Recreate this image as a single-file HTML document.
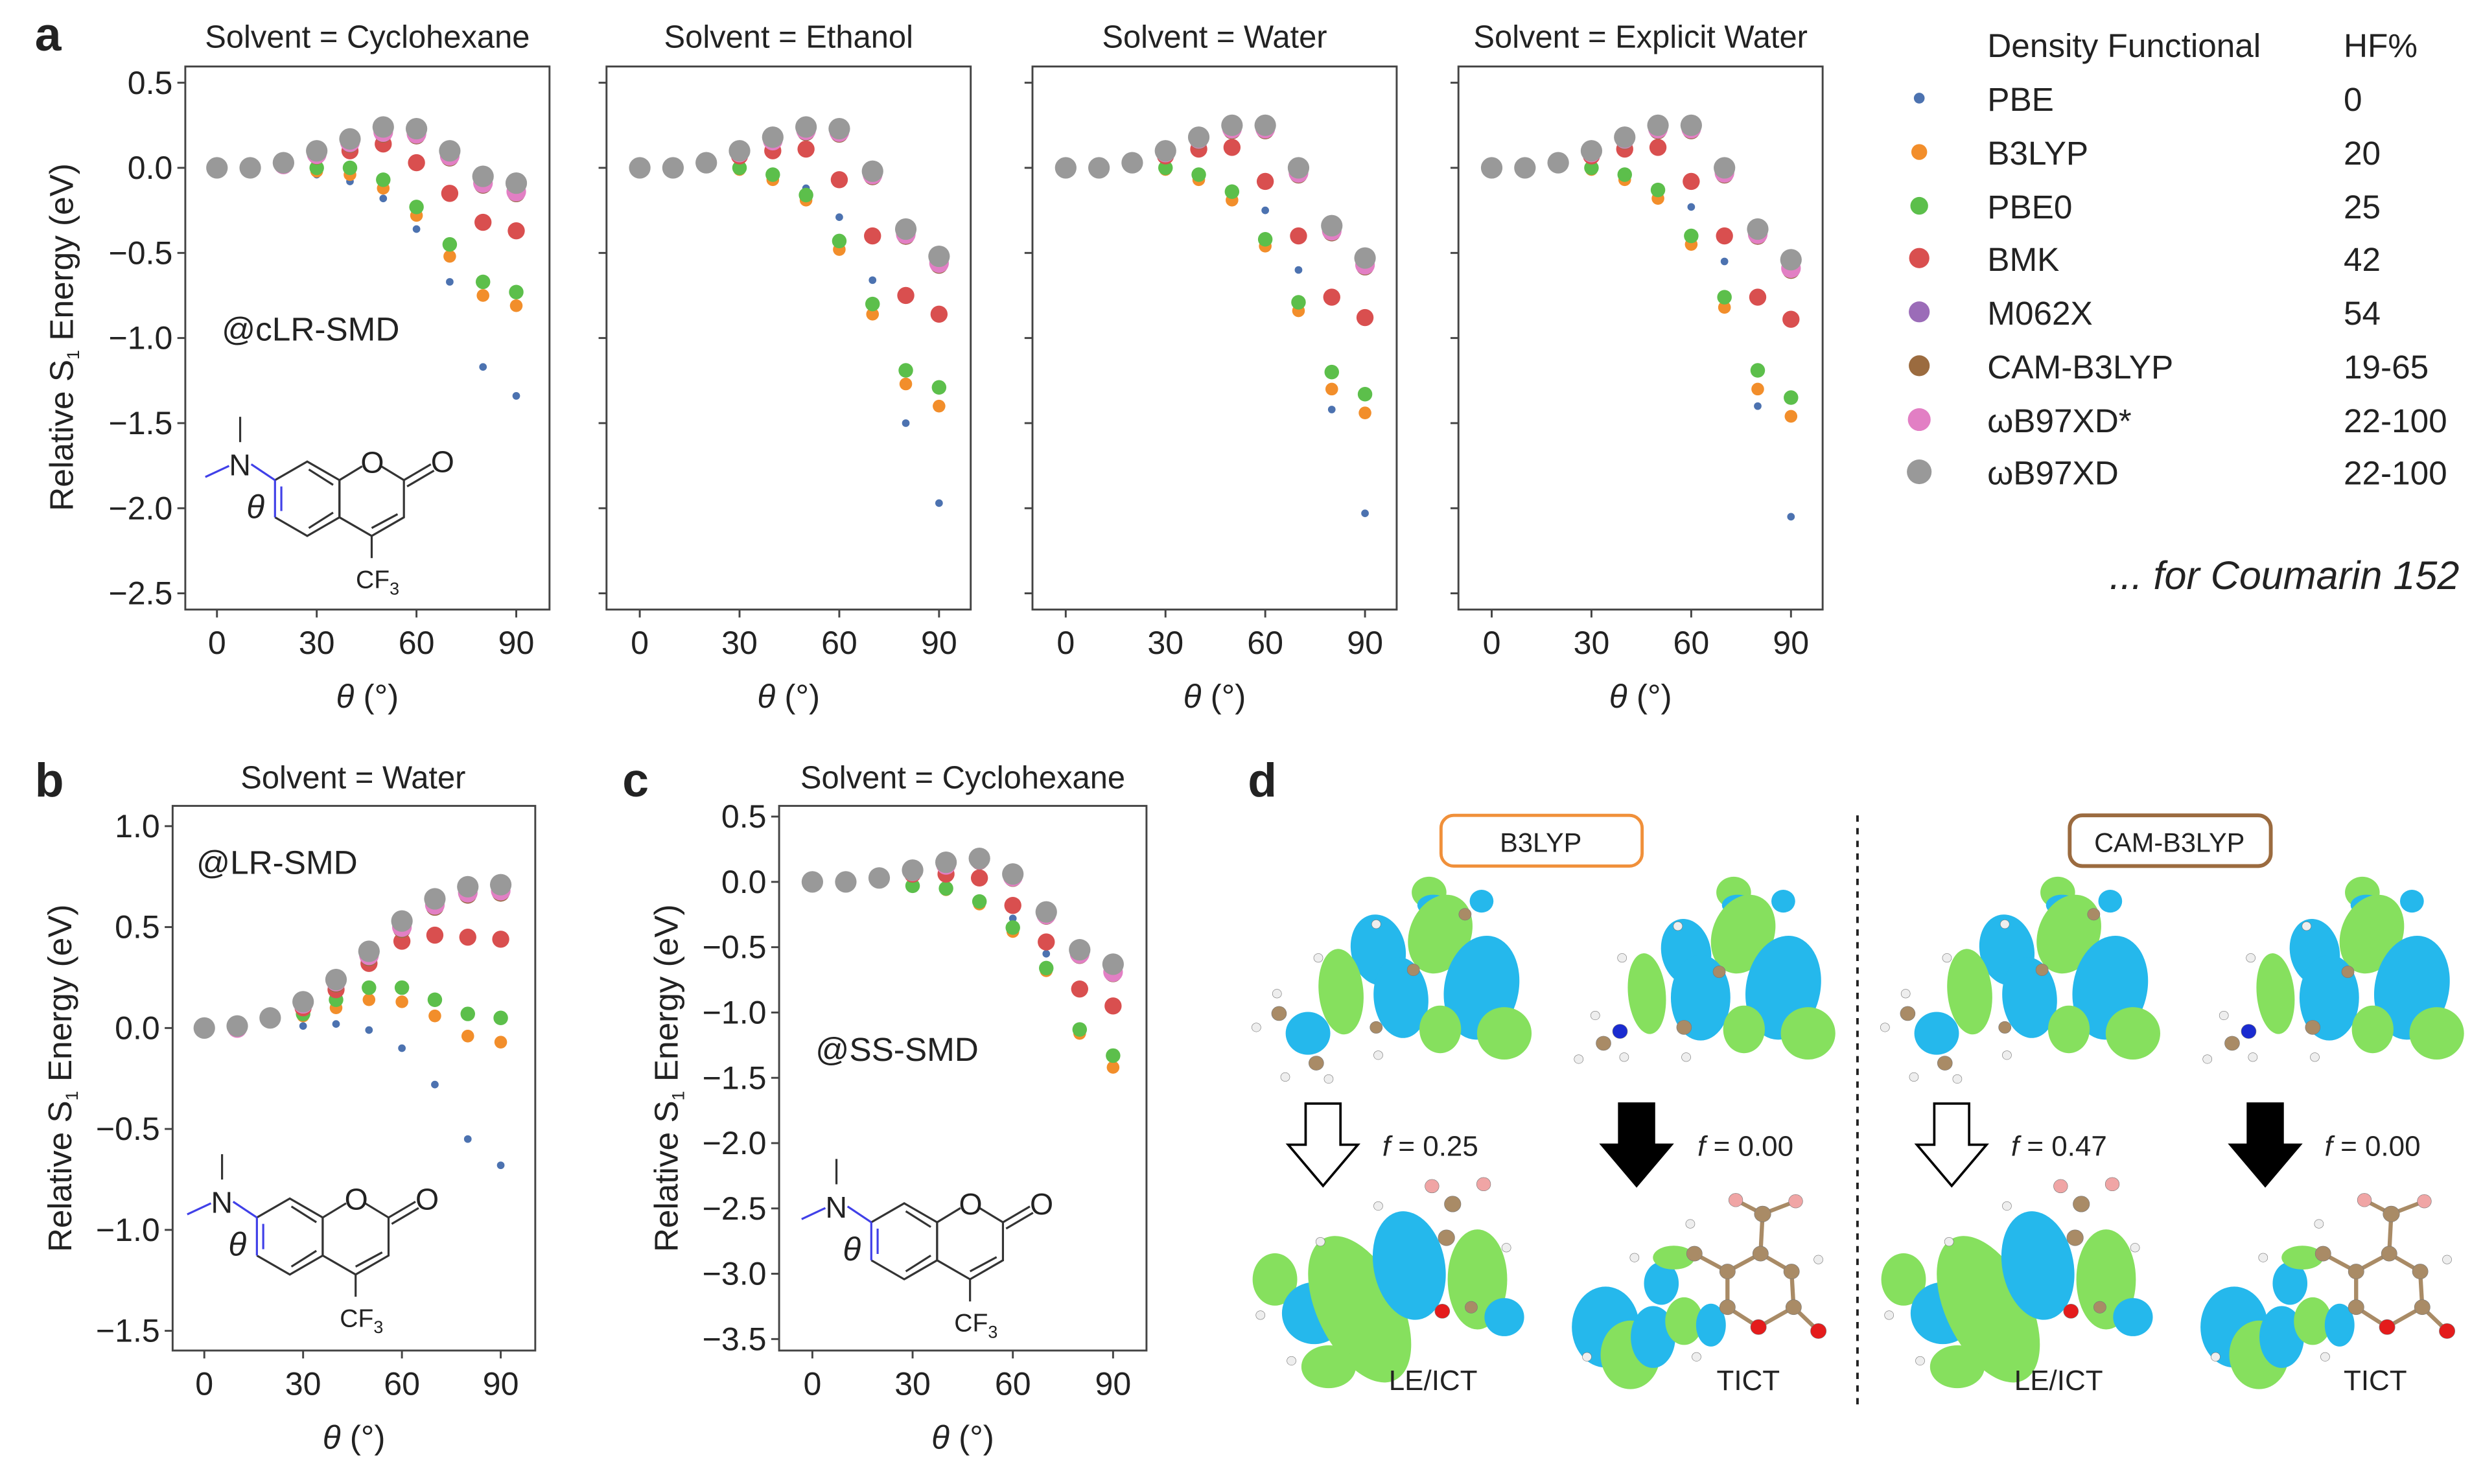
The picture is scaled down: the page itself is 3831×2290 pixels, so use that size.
<!DOCTYPE html>
<html><head><meta charset="utf-8"><style>
html,body{margin:0;padding:0;background:#fff}
svg{display:block}
text{font-family:"Liberation Sans",Arial,sans-serif;fill:#222}
</style></head><body>
<svg id="fig" width="3831" height="2290" viewBox="0 0 1568 937.3" xmlns="http://www.w3.org/2000/svg">
<rect width="1568" height="937.3" fill="#fff"/>
<g id="layer"></g>
</svg>
<script>
// ---------- DATA ----------
const angles=[0,10,20,30,40,50,60,70,80,90];
const seriesNames=["PBE","B3LYP","PBE0","BMK","M062X","CAM-B3LYP","ωB97XD*","ωB97XD"];
const hfLabels=["0","20","25","42","54","19-65","22-100","22-100"];
// Panel a1: Cyclohexane (cLR-SMD)
const cyc_PBE=[0,0,0.02,-0.04,-0.08,-0.18,-0.36,-0.67,-1.17,-1.34];
const cyc_B3LYP=[0,0,0.02,-0.02,-0.04,-0.12,-0.28,-0.52,-0.75,-0.81];
const cyc_PBE0=[0,0,0.02,0,0,-0.07,-0.23,-0.45,-0.67,-0.73];
const cyc_BMK=[0,0,0.02,0.07,0.1,0.14,0.03,-0.15,-0.32,-0.37];
const cyc_M062X=[0,0,0.02,0.08,0.14,0.2,0.19,0.06,-0.1,-0.15];
const cyc_CAM=[0,0,0.02,0.08,0.14,0.2,0.19,0.06,-0.1,-0.15];
const cyc_WBs=[0,0,0.02,0.08,0.15,0.21,0.2,0.07,-0.09,-0.14];
const cyc_WB=[0,0,0.03,0.1,0.17,0.24,0.23,0.1,-0.05,-0.09];
// Panel a2: Ethanol
const eth_PBE=[0,0,0.02,0,-0.05,-0.12,-0.29,-0.66,-1.5,-1.97];
const eth_B3LYP=[0,0,0.02,-0.01,-0.07,-0.19,-0.48,-0.86,-1.27,-1.4];
const eth_PBE0=[0,0,0.02,0,-0.04,-0.16,-0.43,-0.8,-1.19,-1.29];
const eth_BMK=[0,0,0.03,0.07,0.1,0.11,-0.07,-0.4,-0.75,-0.86];
const eth_M062X=[0,0,0.03,0.09,0.16,0.21,0.2,-0.05,-0.4,-0.57];
const eth_CAM=[0,0,0.03,0.09,0.16,0.21,0.2,-0.05,-0.4,-0.57];
const eth_WBs=[0,0,0.03,0.09,0.16,0.22,0.21,-0.04,-0.39,-0.56];
const eth_WB=[0,0,0.03,0.1,0.18,0.24,0.23,-0.02,-0.36,-0.52];
// Panel a3: Water
const wat_PBE=[0,0,0.02,0,-0.05,-0.12,-0.25,-0.6,-1.42,-2.03];
const wat_B3LYP=[0,0,0.02,-0.01,-0.07,-0.19,-0.46,-0.84,-1.3,-1.44];
const wat_PBE0=[0,0,0.02,0,-0.04,-0.14,-0.42,-0.79,-1.2,-1.33];
const wat_BMK=[0,0,0.03,0.07,0.11,0.12,-0.08,-0.4,-0.76,-0.88];
const wat_M062X=[0,0,0.03,0.09,0.16,0.22,0.22,-0.04,-0.38,-0.58];
const wat_CAM=[0,0,0.03,0.09,0.16,0.22,0.22,-0.04,-0.38,-0.58];
const wat_WBs=[0,0,0.03,0.09,0.17,0.23,0.23,-0.03,-0.37,-0.57];
const wat_WB=[0,0,0.03,0.1,0.18,0.25,0.25,0,-0.34,-0.53];
// Panel a4: Explicit Water
const exw_PBE=[0,0,0.02,0,-0.05,-0.12,-0.23,-0.55,-1.4,-2.05];
const exw_B3LYP=[0,0,0.02,-0.01,-0.07,-0.18,-0.45,-0.82,-1.3,-1.46];
const exw_PBE0=[0,0,0.02,0,-0.04,-0.13,-0.4,-0.76,-1.19,-1.35];
const exw_BMK=[0,0,0.03,0.07,0.11,0.12,-0.08,-0.4,-0.76,-0.89];
const exw_M062X=[0,0,0.03,0.09,0.16,0.22,0.22,-0.04,-0.4,-0.6];
const exw_CAM=[0,0,0.03,0.09,0.16,0.22,0.22,-0.04,-0.4,-0.6];
const exw_WBs=[0,0,0.03,0.09,0.17,0.23,0.23,-0.03,-0.39,-0.59];
const exw_WB=[0,0,0.03,0.1,0.18,0.25,0.25,0,-0.36,-0.54];
// Panel b: Water (LR-SMD)
const b_PBE=[0,0,0.04,0.01,0.02,-0.01,-0.1,-0.28,-0.55,-0.68];
const b_B3LYP=[0,0,0.05,0.06,0.1,0.14,0.13,0.06,-0.04,-0.07];
const b_PBE0=[0,0,0.05,0.07,0.14,0.2,0.2,0.14,0.07,0.05];
const b_BMK=[0,0,0.05,0.1,0.19,0.32,0.43,0.46,0.45,0.44];
const b_M062X=[0,0,0.05,0.12,0.22,0.35,0.49,0.6,0.66,0.67];
const b_CAM=[0,0,0.05,0.12,0.22,0.35,0.49,0.6,0.66,0.67];
const b_WBs=[0,0,0.05,0.12,0.23,0.36,0.5,0.61,0.67,0.68];
const b_WB=[0,0.01,0.05,0.13,0.24,0.38,0.53,0.64,0.7,0.71];
// Panel c: Cyclohexane (SS-SMD)
const c_PBE=[0,0,0.02,0.01,-0.05,-0.16,-0.28,-0.55,-1.12,-1.4];
const c_B3LYP=[0,0,0.02,-0.02,-0.06,-0.17,-0.38,-0.68,-1.16,-1.42];
const c_PBE0=[0,0,0.02,-0.03,-0.05,-0.15,-0.35,-0.66,-1.13,-1.33];
const c_BMK=[0,0,0.03,0.06,0.06,0.03,-0.18,-0.46,-0.82,-0.95];
const c_M062X=[0,0,0.03,0.08,0.13,0.16,0.03,-0.26,-0.56,-0.7];
const c_CAM=[0,0,0.03,0.08,0.13,0.16,0.03,-0.26,-0.56,-0.7];
const c_WBs=[0,0,0.03,0.08,0.13,0.17,0.04,-0.25,-0.55,-0.69];
const c_WB=[0,0,0.03,0.09,0.15,0.18,0.06,-0.23,-0.52,-0.63];
const xTicks=[0,30,60,90];
const yTicksA=[0.5,0,-0.5,-1,-1.5,-2,-2.5];
const yTicksB=[1,0.5,0,-0.5,-1,-1.5];
const yTicksC=[0.5,0,-0.5,-1,-1.5,-2,-2.5,-3,-3.5];

// ---------- STYLE ----------
const colors=["#4c72b0","#f28e2b","#5cbf4b","#d94f4f","#9b6cb8","#9b6b3f","#e27fc4","#999999"];
const radii=[2.4,4,4.6,5.4,5.6,5.6,6.2,6.8];
const NS="http://www.w3.org/2000/svg";
const L=document.getElementById('layer');
function mk(tag,attrs,parent){const e=document.createElementNS(NS,tag);for(const k in attrs)e.setAttribute(k,attrs[k]);(parent||L).appendChild(e);return e;}
function txt(s,x,y,size,anchor,parent,extra){const t=mk('text',Object.assign({x:x,y:y,'font-size':size,'text-anchor':anchor||'start'},extra||{}),parent);t.textContent=s;return t;}
function fmt(v){return v.toFixed(1).replace('-','−');}

function panel(name,fl,fr,ft,fb,x0,pxDeg,y0,pxEV,yt,showY,series){
  const g=mk('g',{});
  
  
  const xs=d=>x0+d*pxDeg, ys=v=>y0-v*pxEV;
  const fr_=mk('rect',{x:fl,y:ft,width:fr-fl,height:fb-ft,fill:'none',stroke:'#444','stroke-width':1.2},g);
  
  
  xTicks.forEach(d=>{mk('line',{x1:xs(d),x2:xs(d),y1:fb,y2:fb+5,stroke:'#444','stroke-width':1.2},g);
    const t=txt(String(d),xs(d),fb+28,20.5,'middle',g);
    
    });
  yt.forEach(v=>{mk('line',{x1:fl-5,x2:fl,y1:ys(v),y2:ys(v),stroke:'#444','stroke-width':1.2},g);
    if(showY){const t=txt(fmt(v),fl-8,ys(v)+7,20.5,'end',g);
      
      }});
  series.forEach((arr,si)=>{arr.forEach((v,i)=>{
    const c=mk('circle',{cx:xs(angles[i]),cy:ys(v),r:radii[si],fill:colors[si]},g);
    
    
  });});
  const xl=txt('',(fl+fr)/2,fb+62,21,'middle',g);
  
  
  xl.innerHTML='<tspan font-style="italic">θ</tspan> (°)';
  return g;
}
panel('panel-a-cyclohexane',117,347,42,385,137,2.1,106,107.5,yTicksA,true,[cyc_PBE,cyc_B3LYP,cyc_PBE0,cyc_BMK,cyc_M062X,cyc_CAM,cyc_WBs,cyc_WB]);
panel('panel-a-ethanol',383,613,42,385,404,2.1,106,107.5,yTicksA,false,[eth_PBE,eth_B3LYP,eth_PBE0,eth_BMK,eth_M062X,eth_CAM,eth_WBs,eth_WB]);
panel('panel-a-water',652,882,42,385,673,2.1,106,107.5,yTicksA,false,[wat_PBE,wat_B3LYP,wat_PBE0,wat_BMK,wat_M062X,wat_CAM,wat_WBs,wat_WB]);
panel('panel-a-explicit-water',921,1151,42,385,942,2.1,106,107.5,yTicksA,false,[exw_PBE,exw_B3LYP,exw_PBE0,exw_BMK,exw_M062X,exw_CAM,exw_WBs,exw_WB]);
panel('panel-b-water',109,338,509,853,129,2.08,649.3,127.5,yTicksB,true,[b_PBE,b_B3LYP,b_PBE0,b_BMK,b_M062X,b_CAM,b_WBs,b_WB]);
panel('panel-c-cyclohexane',492,724,509,853,513,2.11,557,82.5,yTicksC,true,[c_PBE,c_B3LYP,c_PBE0,c_BMK,c_M062X,c_CAM,c_WBs,c_WB]);

// titles
[["Solvent = Cyclohexane",232,30],["Solvent = Ethanol",498,30],["Solvent = Water",767,30],["Solvent = Explicit Water",1036,30],["Solvent = Water",223,498],["Solvent = Cyclohexane",608,498]].forEach(a=>{
  const t=txt(a[0],a[1],a[2],20,'middle');
  
  });
// y titles
[[46,213],[45,681],[428,681]].forEach(p=>{
  const t=txt('',p[0],p[1],21,'middle',L,{transform:`rotate(-90 ${p[0]} ${p[1]})`});
  
  
  t.innerHTML='Relative S<tspan font-size="11" dy="4">1</tspan><tspan dy="-4"> Energy (eV)</tspan>';});
// panel letters
[["a",22,32],["b",22,503],["c",393,503],["d",788,503]].forEach(a=>{
  const t=txt(a[0],a[1],a[2],30,'start',L,{'font-weight':'bold'});
  
  });
// annotations
[["@cLR-SMD",140,215],["@LR-SMD",124,552],["@SS-SMD",515,670]].forEach(a=>{
  const t=txt(a[0],a[1],a[2],21,'start');
  
  });

// molecule
function molecule(cx,cy,r,name){
  const g=mk('g',{fill:'none',stroke:'#333','stroke-width':1.3});
  
  
  const hex=(ox)=>[-90,-30,30,90,150,210].map(a=>[ox+r*Math.cos(a*Math.PI/180),cy+r*Math.sin(a*Math.PI/180)]);
  const A=hex(cx),B=hex(cx+r*Math.sqrt(3));
  mk('polyline',{points:[A[5],A[0],A[1],A[2],A[3],A[4]].map(p=>p.join(',')).join(' ')},g);
  mk('polyline',{points:[[B[5][0],B[5][1]],B[4],B[3],B[2],B[1]].map(p=>p.join(',')).join(' ')},g);
  mk('line',{x1:B[5][0],y1:B[5][1],x2:B[0][0]-6,y2:B[0][1]+3},g);
  mk('line',{x1:B[1][0],y1:B[1][1],x2:B[0][0]+6,y2:B[0][1]+3},g);
  mk('line',{x1:A[0][0]+1,y1:A[0][1]+5,x2:A[1][0]-4,y2:A[1][1]+3},g);
  mk('line',{x1:A[2][0]-4,y1:A[2][1]-3,x2:A[3][0]+1,y2:A[3][1]-5},g);
  mk('line',{x1:B[2][0]-4,y1:B[2][1]-2,x2:B[3][0],y2:B[3][1]-5},g);
  mk('line',{x1:A[5][0],y1:A[5][1],x2:A[4][0],y2:A[4][1],stroke:'#4040e8'},g);
  mk('line',{x1:A[5][0]+4,y1:A[5][1]+4,x2:A[4][0]+4,y2:A[4][1]-4,stroke:'#4040e8'},g);
  mk('line',{x1:B[1][0],y1:B[1][1],x2:B[1][0]+17,y2:B[1][1]-10},g);
  mk('line',{x1:B[1][0]+2,y1:B[1][1]+4,x2:B[1][0]+19,y2:B[1][1]-6},g);
  mk('line',{x1:B[3][0],y1:B[3][1],x2:B[3][0],y2:B[3][1]+14},g);
  const nx=A[5][0]-22,ny=A[5][1]-10;
  mk('line',{x1:A[5][0],y1:A[5][1],x2:nx+7,y2:ny,stroke:'#4040e8'},g);
  mk('line',{x1:nx,y1:ny-14,x2:nx,y2:ny-30},g);
  mk('line',{x1:nx-7,y1:ny+1,x2:nx-22,y2:ny+8,stroke:'#4040e8'},g);
  txt('N',nx-7,ny+7,19,'start',g,{fill:'#2020e0',stroke:'none'});
  txt('O',B[0][0]-7,B[0][1]+7,19,'start',g,{stroke:'none'});
  txt('O',B[1][0]+17,B[1][1]-5,19,'start',g,{stroke:'none'});
  const cf=txt('',B[3][0]-10,B[3][1]+33,16,'start',g,{stroke:'none'});cf.innerHTML='CF<tspan font-size="11" dy="4">3</tspan>';
  txt('θ',nx+4,ny+34,21,'start',g,{stroke:'none','font-style':'italic'});
}
molecule(194,315,23.5,'molecule-a');
molecule(183,781,24,'molecule-b');
molecule(571,784,24,'molecule-c');

// legend
const lg=mk('g',{});


txt('Density Functional',1255,36,21,'start',lg);
txt('HF%',1480,36,21,'start',lg);
const rowsY=[62,96,130,163,197,231,265,298];
seriesNames.forEach((n,i)=>{
  const e=mk('g',{},lg);
  
  
  mk('circle',{cx:1212,cy:rowsY[i],r:Math.max(radii[i]+1,3),fill:colors[i]},e);
  txt(n,1255,rowsY[i]+8,21,'start',e);
  txt(hfLabels[i],1480,rowsY[i]+8,21,'start',e);
});
const cm=txt('... for Coumarin 152',1553,372,25,'end',L,{'font-style':'italic'});



// ---------- panel d ----------
const dg=mk('g',{});


mk('line',{x1:1173,y1:515,x2:1173,y2:890,stroke:'#222','stroke-width':1.6,'stroke-dasharray':'4,4'},dg);
mk('rect',{x:910,y:515,width:127,height:32,rx:8,fill:'#fff',stroke:'#f0903a','stroke-width':2},dg);
txt('B3LYP',973,538,17,'middle',dg);
mk('rect',{x:1307,y:515,width:127,height:32,rx:8,fill:'#fff',stroke:'#9b6b3f','stroke-width':2.4},dg);
txt('CAM-B3LYP',1370,538,17,'middle',dg);
const G='#86e05e',C='#25b8ec',BR='#a98b66',W='#eeeeee',P='#f0a5a5',R='#e41c1c';
const K=1.2;
const blobs=[
 [478,240,35,33,G,0],[488,272,32,22,C,0],[605,262,24,24,C,0],
 [505,345,62,85,G,20],[355,385,55,75,C,-10],[410,505,55,85,C,-5],
 [265,490,45,90,G,-5],[605,480,75,110,C,10],[505,585,42,50,G,0],[660,595,55,55,G,0],[185,595,45,45,C,0],
 [1215,240,35,33,G,0],[1225,272,32,22,C,0],[1335,262,24,24,C,0],
 [1238,345,62,85,G,20],[1100,390,50,70,C,-10],[1135,505,60,90,C,0],
 [1005,495,38,85,G,-5],[1335,480,75,110,C,10],[1240,585,42,50,G,0],[1395,595,55,55,G,0],
 [105,1215,45,55,G,0],[200,1300,65,65,C,0],[310,1290,85,165,G,-25],[430,1180,72,115,C,-10],
 [595,1215,60,105,G,0],[660,1310,40,40,C,0],[235,1435,55,45,G,0],
 [905,1335,68,85,C,0],[965,1405,60,72,G,0],[1020,1360,45,65,C,0],[1040,1225,35,45,C,0],
 [1095,1320,38,50,G,0],[1160,1330,30,45,C,0],[1070,1160,42,25,G,0]];
const balls=[
 [115,545,18,BR],[205,670,18,BR],[440,435,15,BR],[350,580,15,BR],[565,295,15,BR],
 [110,495,11,W],[60,580,11,W],[130,705,11,W],[235,710,11,W],[350,320,11,W],[210,405,11,W],[355,650,11,W],
 [940,590,18,'#1a2bd0'],[900,620,18,BR],[1095,580,18,BR],[1180,440,15,BR],
 [880,550,11,W],[840,660,11,W],[950,655,11,W],[945,405,11,W],[1080,325,11,W],[1100,655,11,W],
 [485,980,17,P],[610,975,17,P],[535,1025,20,BR],[520,1110,20,BR],[355,1030,11,W],[215,1120,11,W],[665,1135,11,W],
 [510,1295,18,R],[70,1305,11,W],[145,1420,11,W],[580,1285,15,BR],
 [1120,1150,19,BR],[1200,1195,19,BR],[1200,1285,19,BR],[1280,1150,19,BR],[1355,1195,19,BR],[1360,1285,19,BR],
 [1275,1335,19,R],[1420,1345,19,R],[1285,1050,20,BR],[1220,1015,17,P],[1365,1018,17,P],
 [1110,1075,11,W],[1420,1165,11,W],[975,1160,11,W],[1125,1410,11,W],[860,1410,11,W]];
const bonds=[[1120,1150,1200,1195],[1200,1195,1280,1150],[1280,1150,1355,1195],[1355,1195,1360,1285],[1360,1285,1275,1335],[1275,1335,1200,1285],[1200,1285,1200,1195],[1280,1150,1285,1050],[1285,1050,1220,1015],[1285,1050,1365,1018],[1360,1285,1420,1345],[1120,1150,1050,1190]];
function drawOrbitals(dx,name){
  const g=mk('g',{transform:`translate(${777.7+dx},503.5) scale(0.2610,0.2507)`},dg);
  
  
  bonds.forEach(b=>mk('line',{x1:b[0],y1:b[1],x2:b[2],y2:b[3],stroke:BR,'stroke-width':10},g));
  blobs.forEach(b=>mk('ellipse',{cx:b[0],cy:b[1],rx:b[2]*K,ry:b[3]*K,fill:b[4],transform:`rotate(${b[5]} ${b[0]} ${b[1]})`},g));
  balls.forEach(b=>mk('circle',{cx:b[0],cy:b[1],r:b[2],fill:b[3],stroke:'#777','stroke-width':1},g));
}
drawOrbitals(0,'b3lyp-orbitals');
drawOrbitals(397,'cam-b3lyp-orbitals');
function arrow(x,y,filled){
  const a=mk('polygon',{points:`${x-11},${y} ${x+11},${y} ${x+11},${y+26} ${x+22},${y+26} ${x},${y+52} ${x-22},${y+26} ${x-11},${y+26}`,fill:filled?'#000':'#fff',stroke:'#000','stroke-width':1.5},dg);
  
  
}
arrow(835.5,697,false);arrow(1033.5,697,true);arrow(1232.5,697,false);arrow(1430.5,697,true);
[["0.25",873],["0.00",1072],["0.47",1270],["0.00",1468]].forEach(a=>{
  const t=txt('',a[1],730,18,'start',dg);t.innerHTML='<tspan font-style="italic">f</tspan> = '+a[0];});
[["LE/ICT",905],["TICT",1104],["LE/ICT",1300],["TICT",1500]].forEach(a=>txt(a[0],a[1],878,18,'middle',dg));
</script>
</body></html>
